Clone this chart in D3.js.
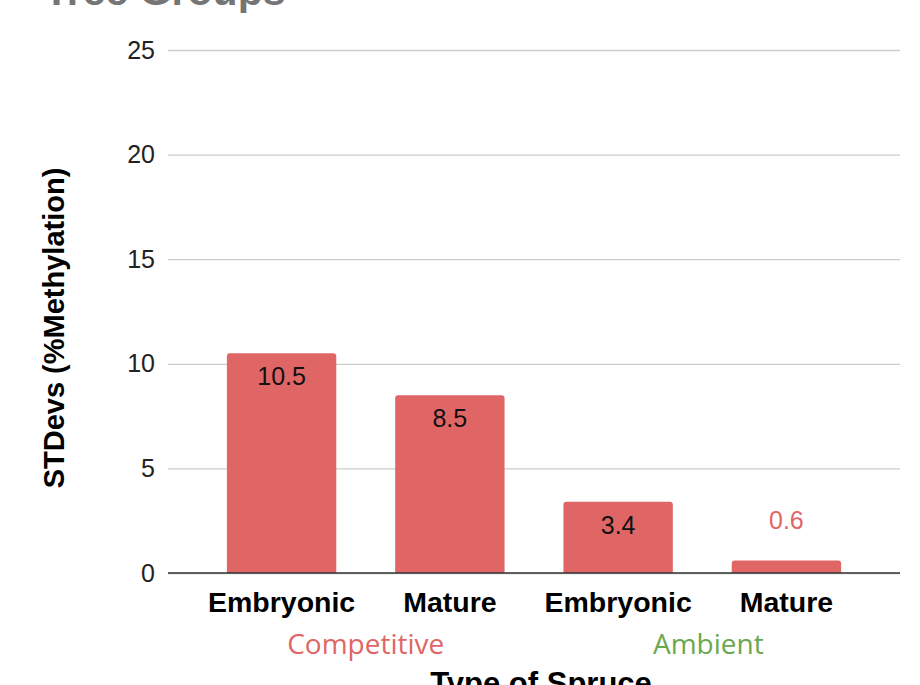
<!DOCTYPE html>
<html>
<head>
<meta charset="utf-8">
<script src="https://cdn.jsdelivr.net/npm/d3@7"></script>
<style>
  html, body { margin: 0; padding: 0; background: #fff; }
  svg { display: block; }
</style>
</head>
<body>
<svg id="chart" width="920" height="685"></svg>
<script>
// Standard deviation of % methylation per spruce type and growing condition
const categories = ["Embryonic", "Mature", "Embryonic", "Mature"];
const groups = ["Competitive", "Competitive", "Ambient", "Ambient"];
const stdevs = [10.5, 8.5, 3.4, 0.6];
const groupNames = ["Competitive", "Ambient"];
const groupColors = ["#e06666", "#6aa84f"];
const yTicks = [0, 5, 10, 15, 20, 25];

const svg = d3.select("#chart");
const plot = { left: 168, right: 900, top: 50, bottom: 573 };
const barColor = "#e06666";
const sans = "Arial, 'Liberation Sans', Helvetica, sans-serif";

const x = d3.scaleBand()
  .domain(d3.range(categories.length))
  .range([plot.left, plot.right])
  .padding(0.35);

const y = d3.scaleLinear()
  .domain([0, 25])
  .range([plot.bottom, plot.top]);

// Title (runs off the top edge)
svg.append("text")
  .attr("x", 44).attr("y", 5)
  .attr("font-family", sans)
  .attr("font-weight", "bold")
  .attr("font-size", 41)
  .attr("fill", "#757575")
  .text("Tree Groups");

// Gridlines + y tick labels
const yAxis = d3.axisLeft(y).tickValues(yTicks).tickSize(-(plot.right - plot.left)).tickPadding(13);
const gy = svg.append("g").attr("transform", `translate(${plot.left},0)`).call(yAxis);
gy.select(".domain").remove();
gy.selectAll(".tick line").attr("stroke", "#cccccc").attr("stroke-width", 1.3);
gy.selectAll(".tick text")
  .attr("font-family", sans)
  .attr("font-size", 25)
  .attr("fill", "#222");

// Bars with rounded tops
function barPath(x0, w, yTop, yBase, r) {
  r = Math.min(r, (yBase - yTop));
  return `M${x0},${yBase}V${yTop + r}Q${x0},${yTop} ${x0 + r},${yTop}H${x0 + w - r}Q${x0 + w},${yTop} ${x0 + w},${yTop + r}V${yBase}Z`;
}
svg.append("g").selectAll("path")
  .data(stdevs)
  .join("path")
  .attr("d", (d, i) => barPath(x(i), x.bandwidth(), y(d), y(0), 3))
  .attr("fill", barColor);

// Baseline
svg.append("line")
  .attr("x1", plot.left).attr("x2", plot.right)
  .attr("y1", y(0)).attr("y2", y(0))
  .attr("stroke", "#333").attr("stroke-width", 1.5);

// Value labels: inside tall bars, above short ones
const inside = d => (y(0) - y(d)) > 40;
svg.append("g").selectAll("text")
  .data(stdevs)
  .join("text")
  .attr("x", (d, i) => x(i) + x.bandwidth() / 2)
  .attr("y", d => inside(d) ? y(d) + 32 : y(d) - 31)
  .attr("text-anchor", "middle")
  .attr("font-family", sans)
  .attr("font-size", 25)
  .attr("fill", d => inside(d) ? "#111" : barColor)
  .text(d => d);

// Category labels
svg.append("g").selectAll("text")
  .data(categories)
  .join("text")
  .attr("x", (d, i) => x(i) + x.bandwidth() / 2)
  .attr("y", 612)
  .attr("text-anchor", "middle")
  .attr("font-family", sans)
  .attr("font-weight", "bold")
  .attr("font-size", 28.5)
  .attr("fill", "#000")
  .text(d => d);

// Group labels centred under their bars
svg.append("g").selectAll("text")
  .data(groupNames)
  .join("text")
  .attr("x", g => {
    const idx = d3.range(groups.length).filter(i => groups[i] === g);
    return d3.mean(idx, i => x(i) + x.bandwidth() / 2) + (g === "Ambient" ? 6 : 0);
  })
  .attr("y", 654)
  .attr("text-anchor", "middle")
  .attr("font-family", "'Open Sans', 'Noto Sans', sans-serif")
  .attr("font-size", 28)
  .attr("fill", (g, i) => groupColors[i])
  .text(g => g);

// Axis titles
svg.append("text")
  .attr("x", 541).attr("y", 694)
  .attr("text-anchor", "middle")
  .attr("font-family", sans)
  .attr("font-weight", "bold")
  .attr("font-size", 31)
  .attr("fill", "#000")
  .text("Type of Spruce");

svg.append("text")
  .attr("transform", "translate(64,328) rotate(-90)")
  .attr("text-anchor", "middle")
  .attr("font-family", sans)
  .attr("font-weight", "bold")
  .attr("font-size", 29)
  .attr("fill", "#000")
  .text("STDevs (%Methylation)");
</script>
</body>
</html>
